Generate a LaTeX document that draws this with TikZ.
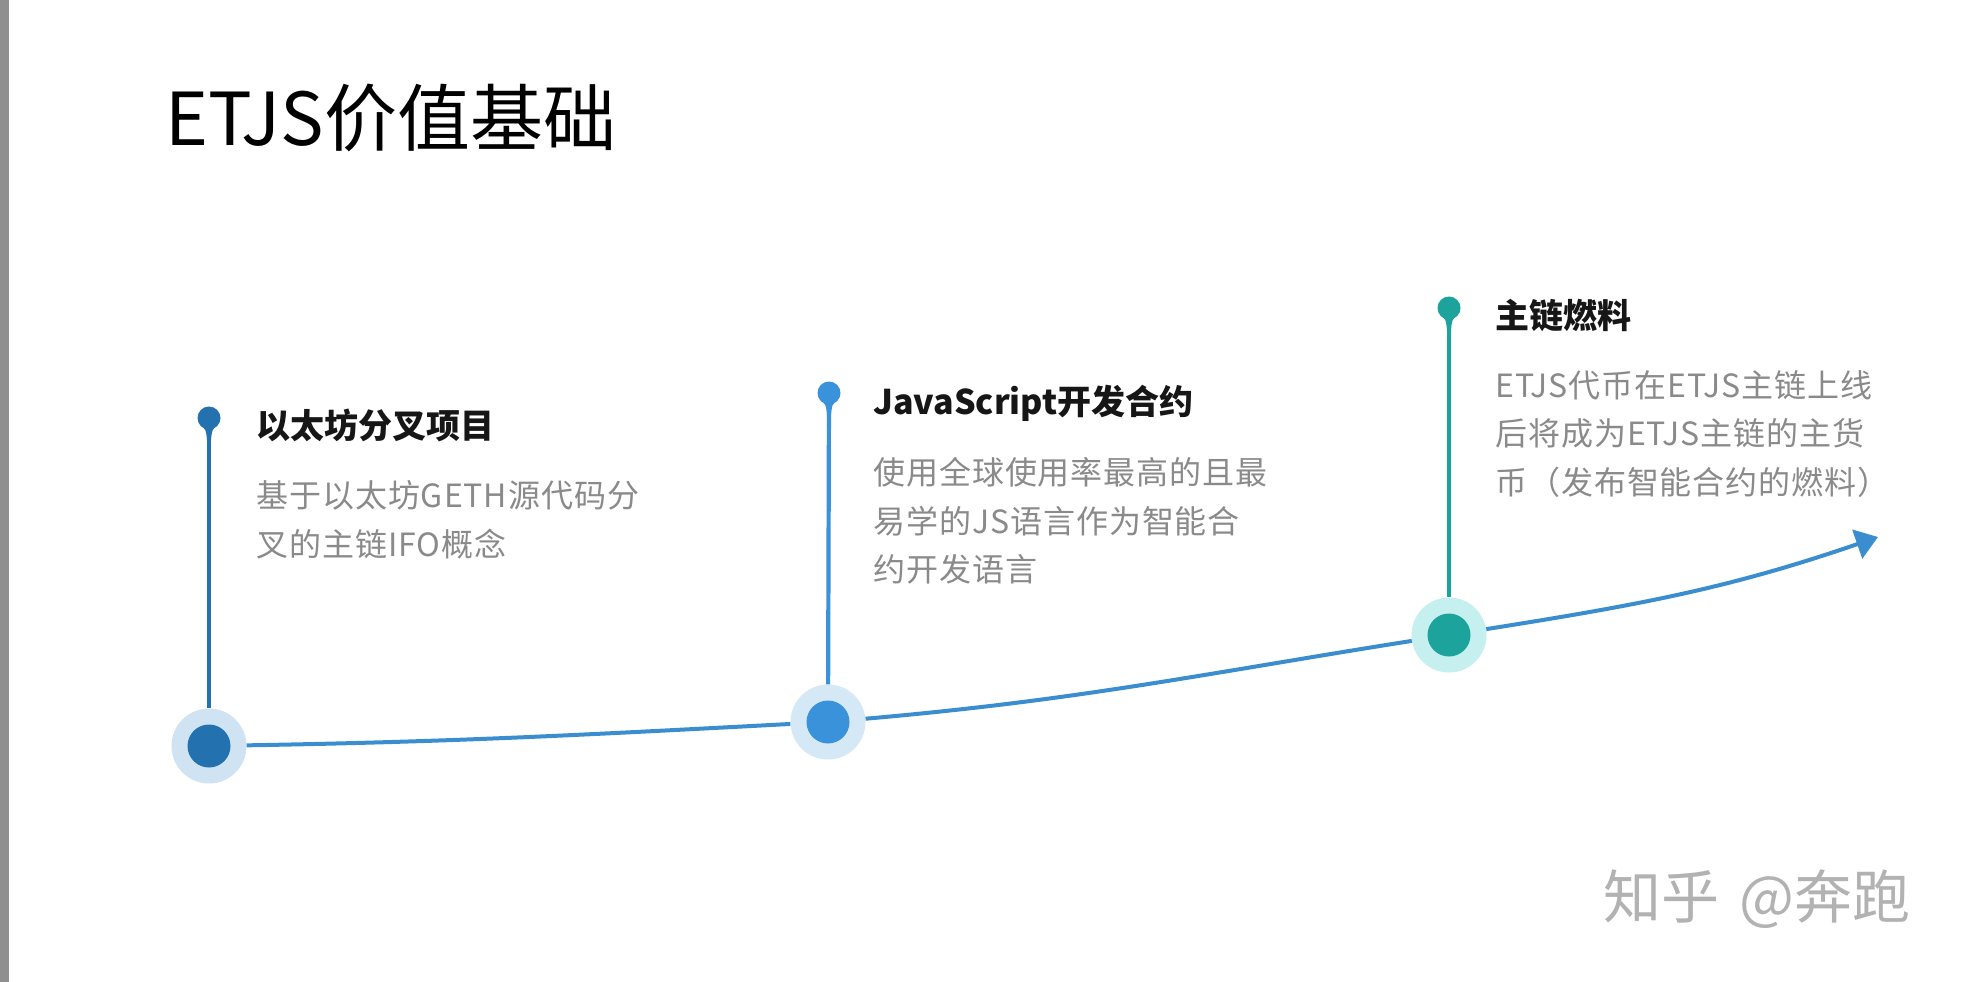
\documentclass[tikz,border=0pt]{standalone}
\usepackage{fontspec}
\setmainfont{Noto Sans CJK SC}
\newfontfamily\cjk{Noto Sans CJK SC}
\newfontfamily\descfnt[LetterSpace=3]{Noto Sans CJK SC}
\usetikzlibrary{arrows.meta,calc}
\definecolor{cOneD}{HTML}{2471B0}
\definecolor{cOneL}{HTML}{CFE3F3}
\definecolor{cTwoD}{HTML}{3A93DA}
\definecolor{cTwoL}{HTML}{D5E8F6}
\definecolor{cThrD}{HTML}{1BA39C}
\definecolor{cThrL}{HTML}{C6EFF0}
\definecolor{curveC}{HTML}{3A8ECF}
\definecolor{descC}{HTML}{8A8A8A}
\definecolor{headC}{HTML}{161616}
\definecolor{wmC}{HTML}{B2B2B2}
\definecolor{barC}{HTML}{8F8F8F}
\begin{document}
\begin{tikzpicture}[x=1pt,y=1pt,
  outerc/.style={circle,inner sep=0pt,minimum size=75pt},
  innerc/.style={circle,inner sep=0pt,minimum size=43pt},
  topdot/.style={circle,inner sep=0pt,minimum size=23pt},
  vline/.style={line width=4.2pt},
  headtxt/.style={anchor=west,inner sep=0pt,text=headC,font=\cjk\bfseries\fontsize{34}{40}\selectfont},
  desctxt/.style={anchor=west,inner sep=0pt,align=left,text=descC,font=\descfnt\fontsize{32}{48.5}\selectfont}
]
\useasboundingbox (0,0) rectangle (1963,-982);
\fill[white] (0,0) rectangle (1963,-982);
\fill[barC] (0,0) rectangle (9,-982);

% title
\node[anchor=base west,inner sep=0pt,font=\cjk\fontsize{73}{80}\selectfont,text=black] (title) at (165,-145) {ETJS价值基础};

% main nodes
\node[outerc,fill=cOneL] (n1) at (209,-746) {};
\node[outerc,fill=cTwoL] (n2) at (828,-722) {};
\node[outerc,fill=cThrL] (n3) at (1449,-635) {};
\coordinate (tip) at (1878,-537);

% top dots
\node[topdot,fill=cOneD] (t1) at (209,-418) {};
\node[topdot,fill=cTwoD] (t2) at (829,-393) {};
\node[topdot,fill=cThrD] (t3) at (1449,-308) {};

% vertical stems
\draw[vline,cOneD] (t1) -- (n1);
\draw[vline,cTwoD] (t2) -- (n2);
\draw[vline,cThrD] (t3) -- (n3);
\foreach \t/\c in {t1/cOneD,t2/cTwoD,t3/cThrD}{
  \fill[\c] ($(\t)+(-8,-7)$) .. controls ($(\t)+(-3,-12)$) .. ($(\t)+(-2,-22)$) -- ($(\t)+(2,-22)$) .. controls ($(\t)+(3,-12)$) .. ($(\t)+(8,-7)$) -- cycle;
}

% curve
\draw[line width=4pt,curveC] (n1) to[out=1,in=183] (n2);
\draw[line width=4pt,curveC] (n2) to[out=5,in=189] (n3);
\draw[line width=4pt,curveC,-{Triangle[length=22pt,width=30pt]}] (n3) to[out=9,in=199] (tip);

% inner circles
\node[innerc,fill=cOneD] (n1i) at (n1) {};
\node[innerc,fill=cTwoD] (n2i) at (n2) {};
\node[innerc,fill=cThrD] (n3i) at (n3) {};

% texts
\node[headtxt] (h1) at (256,-425) {以太坊分叉项目};
\node[desctxt] (d1) at (256,-520) {基于以太坊GETH源代码分\\叉的主链IFO概念};

\node[headtxt] (h2) at (873,-403) {JavaScript开发合约};
\node[desctxt] (d2) at (873,-521) {使用全球使用率最高的且最\\易学的JS语言作为智能合\\约开发语言};

\node[headtxt] (h3) at (1495,-316) {主链燃料};
\node[desctxt] (d3) at (1495,-434) {ETJS代币在ETJS主链上线\\后将成为ETJS主链的主货\\币（发布智能合约的燃料）};

% watermark
\node[anchor=west,inner sep=0pt,text=wmC,font=\cjk\fontsize{58}{62}\selectfont] (wm) at (1603,-899) {知乎\hspace{20pt}@奔跑};
\end{tikzpicture}
\end{document}
